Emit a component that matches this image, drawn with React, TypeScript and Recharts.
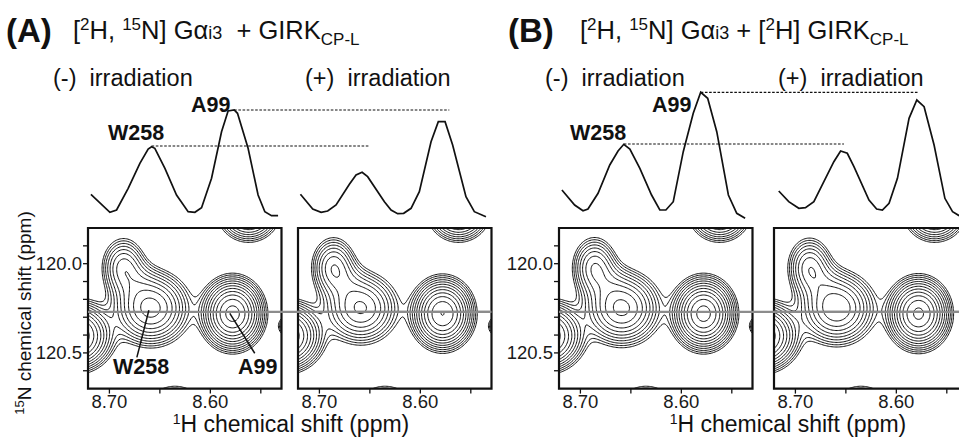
import React from 'react';
import { LineChart, Line, XAxis, YAxis, ReferenceLine, ReferenceArea } from 'recharts';

const font = '"Liberation Sans", Arial, Helvetica, sans-serif';

// window of every contour box (ppm)
const hDomain = [8.5295, 8.7212];
const nDomain = [119.8, 120.7];
const hTicks = [8.55, 8.6, 8.65, 8.7];
const hTickLabels = ['', '8.60', '', '8.70'];
const nTicks = [119.9, 120.0, 120.1, 120.2, 120.3, 120.4, 120.5, 120.6];
const nTickLabels = ['', '120.0', '', '', '', '', '120.5', ''];
const slice15N = 120.27;

// contour levels (arbitrary units, factor 1.3)
const contourLevels = [1, 1.3, 1.69, 2.2, 2.86, 3.71, 4.83, 6.27, 8.16, 10.6, 13.8, 17.9];

// cross peaks seen in the boxes: centre, width and height
const peakNames = ['W258', 'W258 shoulder', 'ridge', 'A99', 'left edge', 'upper right', 'bottom', 'right edge'];
const peak1H = [8.659, 8.686, 8.672, 8.578, 8.735, 8.562, 8.635, 8.515];
const peak15N = [120.25, 120.02, 120.1, 120.28, 120.405, 119.7, 120.85, 120.35];
const peakWidth1H = [0.0185, 0.0115, 0.012, 0.0143, 0.0173, 0.0144, 0.015, 0.008];
const peakWidth15N = [0.1, 0.088, 0.07, 0.0927, 0.089, 0.081, 0.08, 0.035];
const heightsAminus = [12, 5.3, 1.5, 20, 20, 12, 8, 10];
const heightsAplus = [8.5, 5.9, 1.3, 18, 20, 12, 8, 10];
const heightsBminus = [11.5, 6, 1.5, 20, 20, 12, 8, 10];
const heightsBplus = [10.5, 5.6, 1.4, 19, 20, 12, 8, 10];

// 1D slices along 15N = 120.27 ppm
const sliceAminusH = [8.7183, 8.6995, 8.6929, 8.6814, 8.6698, 8.6616, 8.6582, 8.655, 8.645, 8.6335, 8.622, 8.6153, 8.6087, 8.5988, 8.5889, 8.5824, 8.5764, 8.5731, 8.5626, 8.5527, 8.546, 8.5394, 8.5329];
const sliceAminusI = [25.7, 7.7, 10, 31.7, 56.7, 71, 73.3, 71.7, 51.7, 25, 8.3, 7.7, 12.3, 41.7, 88.3, 109, 110, 106.7, 71.7, 25, 8.3, 4.3, 4.3];
const sliceAplusH = [8.7183, 8.7061, 8.6978, 8.6913, 8.683, 8.6698, 8.6632, 8.6572, 8.6517, 8.6351, 8.6285, 8.622, 8.616, 8.6087, 8.6005, 8.5889, 8.5817, 8.575, 8.5675, 8.5543, 8.546, 8.5345];
const sliceAplusI = [25.7, 11, 7.7, 9, 15, 35.7, 45, 47.7, 43.3, 18.3, 10, 6.3, 6.7, 11.7, 28.3, 78.3, 98.3, 98.3, 75, 23.3, 8.3, 3.3];
const sliceBminusH = [8.7183, 8.7057, 8.6974, 8.6925, 8.6825, 8.6709, 8.6627, 8.657, 8.651, 8.6411, 8.6295, 8.6213, 8.6153, 8.608, 8.5981, 8.5882, 8.5808, 8.5739, 8.5649, 8.5534, 8.5451, 8.5368];
const sliceBminusI = [30, 15, 9.3, 11, 26.7, 55, 69, 75.7, 71, 51.7, 25, 10, 10, 18.3, 68.3, 106.7, 127.7, 121.7, 88.3, 25, 6.7, 1.7];
const sliceBplusH = [8.7168, 8.7069, 8.6969, 8.6903, 8.682, 8.6721, 8.6622, 8.6555, 8.6489, 8.6423, 8.6274, 8.6198, 8.6141, 8.6075, 8.5992, 8.5877, 8.58, 8.5728, 8.5629, 8.5522, 8.5446, 8.538];
const sliceBplusI = [29, 18.3, 11.7, 12.3, 18.3, 38.3, 58.3, 69, 66.7, 53.3, 20, 11, 10, 16.7, 41.7, 101.7, 120, 113.3, 75, 21.7, 8.3, 4.3];

// dashed guides [W258, A99]: level, start (- irr.) and end (+ irr.) in 1H ppm
const guideAlevel = [74, 110];
const guideAfrom = [8.6582, 8.5764];
const guideAto = [8.65, 8.5708];
const guideBlevel = [76, 127.7];
const guideBfrom = [8.657, 8.5808];
const guideBto = [8.6522, 8.5778];

// layout
const boxW = 193.5;
const boxH = 160.6;
const boxTop = 227.7;
const pxPerPpm = boxW / (hDomain[1] - hDomain[0]);

type P = { h: number; n: number | null };

const gridNX = 150;
const gridNY = 120;

function intensity(h: number, n: number, heights: number[]) {
  let s = 0;
  for (let k = 0; k < heights.length; k++) {
    const dx = (h - peak1H[k]) / peakWidth1H[k];
    const dy = (n - peak15N[k]) / peakWidth15N[k];
    s += heights[k] * Math.exp(-0.5 * (dx * dx + dy * dy));
  }
  return s;
}

// marching squares, segments chained into polylines separated by null gaps
function contours(heights: number[]): P[] {
  const hs: number[] = [];
  const ns: number[] = [];
  for (let i = 0; i <= gridNX; i++) hs.push(hDomain[0] + ((hDomain[1] - hDomain[0]) * i) / gridNX);
  for (let j = 0; j <= gridNY; j++) ns.push(nDomain[0] + ((nDomain[1] - nDomain[0]) * j) / gridNY);
  const f = ns.map((n) => hs.map((h) => intensity(h, n, heights)));
  const out: P[] = [];

  contourLevels.forEach((lvl) => {
    const pts = new Map<string, P>();
    const segs: [string, string][] = [];
    const hEdge = (i: number, j: number) => {
      const key = 'h' + i + '_' + j;
      if (!pts.has(key)) {
        const t = (lvl - f[j][i]) / (f[j][i + 1] - f[j][i]);
        pts.set(key, { h: hs[i] + t * (hs[i + 1] - hs[i]), n: ns[j] });
      }
      return key;
    };
    const vEdge = (i: number, j: number) => {
      const key = 'v' + i + '_' + j;
      if (!pts.has(key)) {
        const t = (lvl - f[j][i]) / (f[j + 1][i] - f[j][i]);
        pts.set(key, { h: hs[i], n: ns[j] + t * (ns[j + 1] - ns[j]) });
      }
      return key;
    };
    for (let j = 0; j < gridNY; j++) {
      for (let i = 0; i < gridNX; i++) {
        const a = f[j][i], b = f[j][i + 1], c = f[j + 1][i + 1], d = f[j + 1][i];
        const A = a > lvl, B = b > lvl, C = c > lvl, D = d > lvl;
        const cross: string[] = [];
        if (A !== B) cross.push(hEdge(i, j));
        if (B !== C) cross.push(vEdge(i + 1, j));
        if (C !== D) cross.push(hEdge(i, j + 1));
        if (D !== A) cross.push(vEdge(i, j));
        if (cross.length === 2) segs.push([cross[0], cross[1]]);
        else if (cross.length === 4) {
          const mid = (a + b + c + d) / 4 > lvl;
          if (mid === A) segs.push([cross[0], cross[1]], [cross[2], cross[3]]);
          else segs.push([cross[0], cross[3]], [cross[1], cross[2]]);
        }
      }
    }
    const adj = new Map<string, number[]>();
    segs.forEach(([p, q], k) => {
      if (!adj.has(p)) adj.set(p, []);
      if (!adj.has(q)) adj.set(q, []);
      adj.get(p)!.push(k);
      adj.get(q)!.push(k);
    });
    const used = segs.map(() => false);
    const walk = (start: string, chain: string[], front: boolean) => {
      let cur = start;
      for (;;) {
        const nxt = (adj.get(cur) || []).find((k) => !used[k]);
        if (nxt === undefined) break;
        used[nxt] = true;
        const [p, q] = segs[nxt];
        cur = p === cur ? q : p;
        if (front) chain.unshift(cur);
        else chain.push(cur);
      }
    };
    segs.forEach((s, k) => {
      if (used[k]) return;
      used[k] = true;
      const chain = [s[0], s[1]];
      walk(s[1], chain, false);
      walk(s[0], chain, true);
      chain.forEach((key) => out.push(pts.get(key)!));
      const last = pts.get(chain[chain.length - 1])!;
      out.push({ h: last.h, n: null });
    });
  });
  return out;
}

const contourAminus = contours(heightsAminus);
const contourAplus = contours(heightsAplus);
const contourBminus = contours(heightsBminus);
const contourBplus = contours(heightsBplus);

const toSlice = (hs: number[], is: number[], shift = 0) => hs.map((h, k) => ({ h: h - shift, i: is[k] }));

const labelOf = (ticks: number[], labels: string[]) => (v: number) => {
  const k = ticks.findIndex((t) => Math.abs(t - v) < 1e-6);
  return k < 0 ? '' : labels[k];
};

const tickStyle = { fontSize: 18.5, fill: '#1a1a1a', fontFamily: font };

type BoxProps = {
  left: number;
  data: P[];
  withAxis: boolean;
  sliceSpan?: number;
  z: number;
  annotate?: boolean;
};

const Box = ({ left, data, withAxis, sliceSpan, z, annotate }: BoxProps) => {
  const axisW = withAxis ? 60 : 6;
  const rightM = sliceSpan ? sliceSpan - boxW + 6 : 6;
  const width = axisW + boxW + rightM;
  const height = 6 + boxH + 44;
  return (
    <div style={{ position: 'absolute', left: left - axisW, top: boxTop - 6, zIndex: z }}>
      <LineChart width={width} height={height} margin={{ top: 6, right: rightM, bottom: 0, left: withAxis ? 0 : 6 }}>
        <XAxis
          type="number"
          dataKey="h"
          domain={hDomain}
          reversed
          allowDataOverflow
          ticks={hTicks}
          interval={0}
          tickFormatter={labelOf(hTicks, hTickLabels)}
          axisLine={false}
          tickLine={{ stroke: '#111', strokeWidth: 1.3 }}
          tickSize={5}
          tickMargin={1}
          tick={tickStyle}
          height={44}
        />
        <YAxis
          type="number"
          dataKey="n"
          domain={nDomain}
          reversed
          allowDataOverflow
          hide={!withAxis}
          ticks={nTicks}
          interval={0}
          tickFormatter={labelOf(nTicks, nTickLabels)}
          axisLine={false}
          tickLine={{ stroke: '#111', strokeWidth: 1.3 }}
          tickSize={5}
          tickMargin={1}
          tick={tickStyle}
          width={axisW}
        />
        <Line data={data} dataKey="n" stroke="#111" strokeWidth={1} dot={false} connectNulls={false} isAnimationActive={false} />
        <ReferenceLine
          segment={[
            { x: hDomain[1], y: slice15N },
            { x: hDomain[1] - (sliceSpan || boxW) / pxPerPpm, y: slice15N },
          ]}
          stroke="#8c8c8c"
          strokeWidth={2.2}
          ifOverflow="visible"
        />
        {annotate && (
          <ReferenceLine segment={[{ x: 8.6728, y: 120.525 }, { x: 8.6609, y: 120.261 }]} stroke="#111" strokeWidth={1.5} ifOverflow="visible" />
        )}
        {annotate && (
          <ReferenceLine segment={[{ x: 8.556, y: 120.502 }, { x: 8.5807, y: 120.278 }]} stroke="#111" strokeWidth={1.5} ifOverflow="visible" />
        )}
        <ReferenceArea x1={hDomain[0]} x2={hDomain[1]} y1={nDomain[0]} y2={nDomain[1]} fill="none" stroke="#111" strokeWidth={2.2} ifOverflow="visible" />
      </LineChart>
    </div>
  );
};

type SliceProps = {
  left: number;
  span: number;
  shift: number;
  minusH: number[];
  minusI: number[];
  plusH: number[];
  plusI: number[];
  level: number[];
  from: number[];
  to: number[];
};

const Slices = ({ left, span, shift, minusH, minusI, plusH, plusI, level, from, to }: SliceProps) => {
  const hMax = hDomain[1];
  const hMin = hMax - span / pxPerPpm;
  return (
    <div style={{ position: 'absolute', left, top: 80 }}>
      <LineChart width={span} height={140} margin={{ top: 0, right: 0, bottom: 0, left: 0 }}>
        <XAxis type="number" dataKey="h" domain={[hMin, hMax]} reversed hide allowDataOverflow />
        <YAxis type="number" domain={[0, 140]} hide allowDataOverflow />
        <Line data={toSlice(minusH, minusI)} dataKey="i" stroke="#111" strokeWidth={1.7} dot={false} isAnimationActive={false} />
        <Line data={toSlice(plusH, plusI, shift / pxPerPpm)} dataKey="i" stroke="#111" strokeWidth={1.7} dot={false} isAnimationActive={false} />
        {level.map((y, k) => (
          <ReferenceLine
            key={k}
            segment={[{ x: from[k], y }, { x: to[k] - shift / pxPerPpm, y }]}
            stroke="#111"
            strokeWidth={1.2}
            strokeDasharray="2.6 1.6"
            ifOverflow="visible"
          />
        ))}
      </LineChart>
    </div>
  );
};

export default function App() {
  const aL = 88.3, aR = 297.8, bL = 559, bR = 774.3;
  return (
    <div style={{ position: 'absolute', left: 0, top: 0, width: 959, height: 438, overflow: 'hidden', background: '#fff' }}>
      <Slices left={aL} span={aR + boxW - aL} shift={aR - aL} minusH={sliceAminusH} minusI={sliceAminusI} plusH={sliceAplusH} plusI={sliceAplusI} level={guideAlevel} from={guideAfrom} to={guideAto} />
      <Slices left={bL} span={bR + boxW - bL} shift={bR - bL} minusH={sliceBminusH} minusI={sliceBminusI} plusH={sliceBplusH} plusI={sliceBplusI} level={guideBlevel} from={guideBfrom} to={guideBto} />
      <Box left={aR} data={contourAplus} withAxis={false} z={1} />
      <Box left={aL} data={contourAminus} withAxis sliceSpan={aR + boxW - aL} z={2} annotate />
      <Box left={bR} data={contourBplus} withAxis={false} z={1} />
      <Box left={bL} data={contourBminus} withAxis sliceSpan={bR + boxW - bL} z={2} />
      <svg width={959} height={438} style={{ position: 'absolute', left: 0, top: 0, zIndex: 3, pointerEvents: 'none' }} fontFamily={font} fill="#111">
        <text x={6} y={42} fontSize={33} fontWeight="bold">(A)</text>
        <text x={73} y={39} fontSize={25.5}>
          [<tspan dy={-9.5} fontSize={17}>2</tspan>
          <tspan dy={9.5}>H, </tspan>
          <tspan dy={-9.5} fontSize={17}>15</tspan>
          <tspan dy={9.5}>N] Gα</tspan>
          <tspan fontSize={18}>i3</tspan>
          <tspan>{'\u00a0 + GIRK'}</tspan>
          <tspan dy={6} fontSize={17}>CP-L</tspan>
        </text>
        <text x={508} y={42} fontSize={33} fontWeight="bold">(B)</text>
        <text x={580} y={39} fontSize={25.5}>
          [<tspan dy={-9.5} fontSize={17}>2</tspan>
          <tspan dy={9.5}>H, </tspan>
          <tspan dy={-9.5} fontSize={17}>15</tspan>
          <tspan dy={9.5}>N] Gα</tspan>
          <tspan fontSize={18}>i3</tspan>
          <tspan>{' + ['}</tspan>
          <tspan dy={-9.5} fontSize={17}>2</tspan>
          <tspan dy={9.5}>H] GIRK</tspan>
          <tspan dy={6} fontSize={17}>CP-L</tspan>
        </text>
        <text x={53} y={86} fontSize={23.5}>{'(-)\u00a0 irradiation'}</text>
        <text x={305} y={86} fontSize={23.5}>{'(+)\u00a0 irradiation'}</text>
        <text x={545} y={86} fontSize={23.5}>{'(-)\u00a0 irradiation'}</text>
        <text x={778} y={86} fontSize={23.5}>{'(+)\u00a0 irradiation'}</text>
        <text x={108} y={140} fontSize={21.5} fontWeight="bold">W258</text>
        <text x={191} y={111.5} fontSize={21.5} fontWeight="bold">A99</text>
        <text x={570} y={140} fontSize={21.5} fontWeight="bold">W258</text>
        <text x={652} y={111.5} fontSize={21.5} fontWeight="bold">A99</text>
        <text x={113} y={374} fontSize={21.5} fontWeight="bold">W258</text>
        <text x={238} y={374} fontSize={21.5} fontWeight="bold">A99</text>
        <text transform="translate(31,313) rotate(-90)" textAnchor="middle" fontSize={19}>
          <tspan dy={-7} fontSize={13}>15</tspan>
          <tspan dy={7}>N chemical shift (ppm)</tspan>
        </text>
        <text x={291} y={432} textAnchor="middle" fontSize={23}>
          <tspan dy={-8} fontSize={14}>1</tspan>
          <tspan dy={8}>H chemical shift (ppm)</tspan>
        </text>
        <text x={788} y={432} textAnchor="middle" fontSize={23}>
          <tspan dy={-8} fontSize={14}>1</tspan>
          <tspan dy={8}>H chemical shift (ppm)</tspan>
        </text>
      </svg>
    </div>
  );
}
